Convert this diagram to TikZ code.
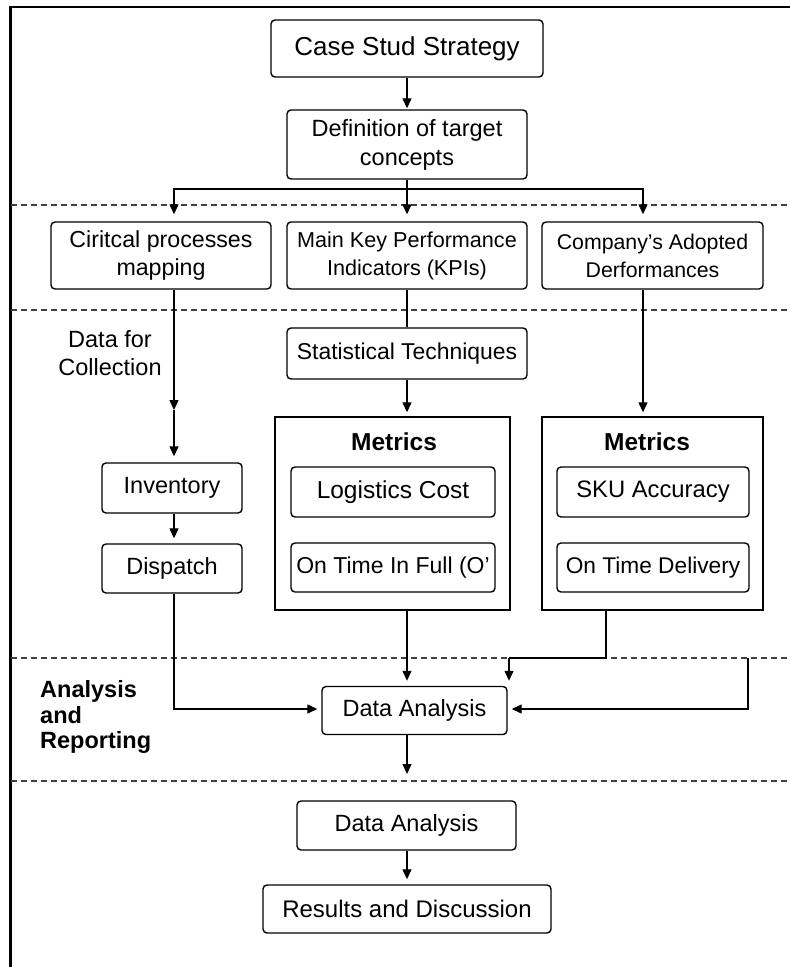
\documentclass[tikz,border=0pt]{standalone}
\usepackage{fontspec}
\setmainfont{Liberation Sans}
\usetikzlibrary{arrows.meta}
\begin{document}
\begin{tikzpicture}[x=1pt,y=-1pt,
  box/.style={draw, line width=1.4pt, rounded corners=4pt, align=center, inner sep=0pt, font=\fontsize{23.5}{29}\selectfont},
  frame/.style={draw, line width=1.4pt, inner sep=0pt},
  conn/.style={line width=1.3pt},
  arr/.style={conn, -{Triangle[length=10pt,width=9pt]}},
  sep/.style={line width=1.4pt, dash pattern=on 6pt off 4pt, draw=black!75},
  lbl/.style={align=center, inner sep=0pt, font=\fontsize{23.5}{28}\selectfont},
  ttl/.style={inner sep=0pt, font=\fontsize{24.5}{29}\selectfont\bfseries}
]
\useasboundingbox (0,0) rectangle (790,967);

% frame lines
\draw[line width=2.5pt] (790,7) -- (10.5,7) -- (10.5,967);

% separators
\foreach \yy in {205,310,658,781} \draw[sep] (10.5,\yy) -- (790,\yy);

% boxes
\node[box, minimum width=272pt, minimum height=57pt, font=\fontsize{26}{30}\selectfont] (case) at (407,48.5) {Case Stud Strategy};
\node[box, minimum width=240pt, minimum height=69pt] (def) at (407,144.5) {Definition of target\\concepts};
\node[box, minimum width=220pt, minimum height=67pt, font=\fontsize{23.2}{28}\selectfont] (crit) at (161,255.5) {Ciritcal processes\\mapping};
\node[box, minimum width=240pt, minimum height=67pt, font=\fontsize{21.6}{28}\selectfont] (kpi) at (407,255.5) {Main Key Performance\\Indicators (KPIs)};
\node[box, minimum width=221pt, minimum height=67pt, font=\fontsize{21.3}{28}\selectfont] (comp) at (652.5,255.5) {Company’s Adopted\\Derformances};
\node[box, minimum width=240pt, minimum height=51pt, font=\fontsize{22.9}{28}\selectfont] (stat) at (407,353.5) {Statistical Techniques};

\node[frame, minimum width=235pt, minimum height=193pt] (metL) at (392.5,513.5) {};
\node[frame, minimum width=221pt, minimum height=193pt] (metR) at (652.5,513.5) {};
\node[ttl] (metLt) at (394,442) {Metrics};
\node[ttl] (metRt) at (647,442) {Metrics};

\node[box, minimum width=204pt, minimum height=50pt, font=\fontsize{24.5}{29}\selectfont] (log) at (393,492) {Logistics Cost};
\node[box, minimum width=204pt, minimum height=49pt, font=\fontsize{23}{28}\selectfont] (otif) at (393,567.5) {On Time In Full (O’};
\node[box, minimum width=192pt, minimum height=50pt, font=\fontsize{23.8}{28}\selectfont] (sku) at (653,492) {SKU Accuracy};
\node[box, minimum width=192pt, minimum height=49pt, font=\fontsize{22.7}{28}\selectfont] (otd) at (653,567.5) {On Time Delivery};

\node[box, minimum width=140pt, minimum height=50pt] (inv) at (172,488) {Inventory};
\node[box, minimum width=140pt, minimum height=49pt] (disp) at (172,568.5) {Dispatch};

\node[box, minimum width=185pt, minimum height=48pt] (da1) at (414.5,710.5) {Data Analysis};
\node[box, minimum width=219pt, minimum height=49pt] (da2) at (406.5,825.5) {Data Analysis};
\node[box, minimum width=288pt, minimum height=48pt, font=\fontsize{24}{28}\selectfont] (res) at (407,909) {Results and Discussion};

% labels
\node[lbl] (dfc) at (110,353) {Data for\\Collection};
\node[lbl, align=left, anchor=west, font=\fontsize{23.5}{25.5}\selectfont\bfseries] (anr) at (40,717) {Analysis\\and\\Reporting};

% coordinates
\coordinate (j) at (407,189);
\coordinate (lc) at (174,189);
\coordinate (rc) at (643,189);
\coordinate (m1) at (174,410);
\coordinate (r1) at (606,658);
\coordinate (r2) at (509,658);
\coordinate (q1) at (748,658);
\coordinate (q2) at (748,709);
\coordinate (d1) at (174,709);
\coordinate (e1) at (407,774);

% connectors
\draw[arr, shorten >=1pt] (case.south) -- (def.north);
\draw[conn] (def.south) -- (j);
\draw[arr, shorten >=7pt] (j) -| (crit.north -| lc);
\draw[arr, shorten >=7pt] (j) -| (comp.north -| rc);
\draw[arr, shorten >=7pt] (j) -- (kpi.north);

\draw[arr] (crit.south -| lc) -- (m1);
\draw[arr, shorten >=6pt] (m1) -- (inv.north -| lc);
\draw[arr, shorten >=5pt] (inv.south -| lc) -- (disp.north -| lc);

\draw[conn] (kpi.south) -- (stat.north);
\draw[arr, shorten >=4pt] (stat.south) -- (metL.north -| stat.south);
\draw[arr, shorten >=4pt] (comp.south -| rc) -- (metR.north -| rc);

\draw[arr, shorten >=5pt] (metL.south -| stat.south) -- (da1.north -| stat.south);
\draw[conn] (metR.south -| r1) -- (r1) -- (r2);
\draw[arr, shorten >=5pt] (r2) -- (da1.north -| r2);
\draw[arr, shorten >=4pt] (q1) -- (q2) -- (da1.east |- q2);
\draw[arr, shorten >=4pt] (disp.south -| lc) -- (d1) -- (da1.west |- d1);

\draw[arr] (da1.south -| e1) -- (e1);
\draw[arr, shorten >=5pt] (da2.south -| e1) -- (res.north -| e1);
\end{tikzpicture}
\end{document}
